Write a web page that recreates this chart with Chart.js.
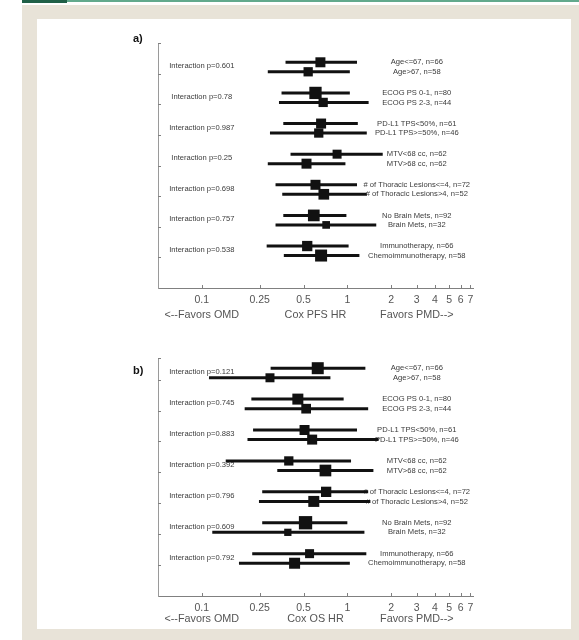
<!DOCTYPE html>
<html>
<head>
<meta charset="utf-8">
<script src="https://cdn.jsdelivr.net/npm/chart.js@4.4.1/dist/chart.umd.min.js"></script>
<style>
  html, body { margin: 0; padding: 0; background: #fff; }
  #page { position: relative; width: 579px; height: 640px; overflow: hidden; }
  .frame { position: absolute; left: 22px; top: 5px; width: 557px; height: 635px; background: #e8e3d8; }
  .panel { position: absolute; left: 37px; top: 19px; width: 534px; height: 610px; background: #fff; }
  .rule { position: absolute; left: 22px; top: 0; width: 557px; height: 2px; background: #62a98d; }
  .ruleDark { position: absolute; left: 22px; top: 0; width: 45px; height: 3px; background: #1f5f47; }
  canvas { position: absolute; left: 0; }
  #pfs { top: 0; }
  #os { top: 330px; }
</style>
</head>
<body>
<div id="page">
  <div class="frame"></div>
  <div class="panel"></div>
  <div class="rule"></div>
  <div class="ruleDark"></div>
  <canvas id="pfs" width="579" height="330"></canvas>
  <canvas id="os" width="579" height="310"></canvas>
</div>
<script>
// Subgroup labels, top group first
const upperLabels = ["Age<=67, n=66", "ECOG PS 0-1, n=80", "PD-L1 TPS<50%, n=61", "MTV<68 cc, n=62",
                     "# of Thoracic Lesions<=4, n=72", "No Brain Mets, n=92", "Immunotherapy, n=66"];
const lowerLabels = ["Age>67, n=58", "ECOG PS 2-3, n=44", "PD-L1 TPS>=50%, n=46", "MTV>68 cc, n=62",
                     "# of Thoracic Lesions>4, n=52", "Brain Mets, n=32", "Chemoimmunotherapy, n=58"];

// Shared log-axis ticks
const xTickValues = [0.1, 0.25, 0.5, 1, 2, 3, 4, 5, 6, 7];
const xTickLabels = ["0.1", "0.25", "0.5", "1", "2", "3", "4", "5", "6", "7"];

// a) progression-free survival
const pfsInteractionP = ["0.601", "0.78", "0.987", "0.25", "0.698", "0.757", "0.538"];
const pfsUpperHR   = [0.653, 0.604, 0.660, 0.850, 0.604, 0.588, 0.530];
const pfsUpperLow  = [0.376, 0.353, 0.363, 0.407, 0.321, 0.363, 0.279];
const pfsUpperHigh = [1.165, 1.040, 1.180, 1.750, 1.165, 0.985, 1.020];
const pfsUpperWeight = [1.00, 1.51, 1.00, 0.81, 1.00, 1.37, 1.06];
const pfsLowerHR   = [0.538, 0.682, 0.636, 0.524, 0.689, 0.715, 0.660];
const pfsLowerLow  = [0.284, 0.339, 0.294, 0.284, 0.357, 0.321, 0.366];
const pfsLowerHigh = [1.040, 1.400, 1.360, 0.970, 1.360, 1.580, 1.210];
const pfsLowerWeight = [0.86, 0.86, 0.86, 1.00, 1.14, 0.59, 1.44];

// b) overall survival
const osInteractionP = ["0.121", "0.745", "0.883", "0.392", "0.796", "0.609", "0.792"];
const osUpperHR   = [0.626, 0.457, 0.508, 0.396, 0.715, 0.516, 0.550];
const osUpperLow  = [0.297, 0.219, 0.225, 0.146, 0.260, 0.260, 0.222];
const osUpperHigh = [1.330, 0.943, 1.165, 1.060, 1.390, 1.000, 1.350];
const osUpperWeight = [1.44, 1.21, 1.00, 0.86, 1.06, 1.77, 0.81];
const osLowerHR   = [0.294, 0.521, 0.573, 0.707, 0.588, 0.390, 0.434];
const osLowerLow  = [0.112, 0.197, 0.206, 0.330, 0.247, 0.118, 0.180];
const osLowerHigh = [0.765, 1.390, 1.640, 1.510, 1.440, 1.310, 1.040];
const osLowerWeight = [0.81, 0.94, 1.00, 1.37, 1.21, 0.53, 1.21];

const FONT = "'Liberation Sans', Arial, sans-serif";
const INK = '#111';
const TEXT = '#3a3a3a';
const AXIS = '#808080';

// Row offsets within each group (group base sits at integer y values 7..1)
const UPPER_OFF = 0.37, LOWER_OFF = 0.06, NOTE_OFF = 0.24;

function groupBase(i) { return 7 - i; }

function buildDatasets(s) {
  const rows = [];
  for (let i = 0; i < 7; i++) {
    rows.push({ hr: s.upperHR[i], lo: s.upperLow[i], hi: s.upperHigh[i], w: s.upperWeight[i], y: groupBase(i) + UPPER_OFF });
    rows.push({ hr: s.lowerHR[i], lo: s.lowerLow[i], hi: s.lowerHigh[i], w: s.lowerWeight[i], y: groupBase(i) + LOWER_OFF });
  }
  const sets = [{
    label: 'HR',
    order: 0,
    data: rows.map(r => ({ x: r.hr, y: r.y })),
    pointStyle: 'rect',
    backgroundColor: INK,
    borderWidth: 0,
    // square side grows with the subgroup weight
    pointRadius: rows.map(r => (10 * Math.sqrt(r.w)) / (2 * Math.SQRT1_2)),
    showLine: false
  }];
  rows.forEach((r, k) => {
    sets.push({
      label: 'CI ' + k,
      order: 1,
      data: [{ x: r.lo, y: r.y }, { x: r.hi, y: r.y }],
      showLine: true,
      borderColor: INK,
      borderWidth: 3,
      pointRadius: 0,
      fill: false
    });
  });
  return sets;
}

const forestText = {
  id: 'forestText',
  beforeDatasetsDraw(chart, args, o) {
    const { ctx, scales: { x, y } } = chart;
    ctx.save();
    ctx.fillStyle = TEXT;
    ctx.textAlign = 'center';
    ctx.textBaseline = 'middle';
    ctx.font = `7.6px ${FONT}`;
    const xl = x.getPixelForValue(0.1);
    const xr = x.getPixelForValue(3);
    for (let i = 0; i < 7; i++) {
      const b = groupBase(i);
      ctx.fillText('Interaction p=' + o.p[i], xl, y.getPixelForValue(b + NOTE_OFF));
      ctx.fillText(upperLabels[i], xr, y.getPixelForValue(b + UPPER_OFF));
      ctx.fillText(lowerLabels[i], xr, y.getPixelForValue(b + LOWER_OFF));
    }
    ctx.restore();
  },
  afterDraw(chart, args, o) {
    const { ctx, scales: { x, y }, chartArea: a } = chart;
    ctx.save();
    // inward tick marks
    ctx.strokeStyle = AXIS;
    ctx.lineWidth = 1;
    x.ticks.forEach(t => {
      const px = Math.round(x.getPixelForValue(t.value)) + 0.5;
      ctx.beginPath(); ctx.moveTo(px, a.bottom); ctx.lineTo(px, a.bottom - 3); ctx.stroke();
    });
    y.ticks.forEach(t => {
      const py = Math.round(y.getPixelForValue(t.value)) + 0.5;
      ctx.beginPath(); ctx.moveTo(a.left, py); ctx.lineTo(a.left + 3, py); ctx.stroke();
    });
    // axis captions
    ctx.fillStyle = '#555';
    ctx.textAlign = 'center';
    ctx.textBaseline = 'middle';
    ctx.font = `10.8px ${FONT}`;
    const ty = a.bottom + o.titleGap;
    ctx.fillText('<--Favors OMD', x.getPixelForValue(0.1), ty);
    ctx.fillText(o.title, (a.left + a.right) / 2, ty);
    ctx.fillText('Favors PMD-->', x.getPixelForValue(3), ty);
    // panel letter
    ctx.fillStyle = '#111';
    ctx.font = `bold 11px ${FONT}`;
    ctx.textAlign = 'left';
    ctx.fillText(o.letter, o.letterX, o.letterY);
    ctx.restore();
  }
};

function makeForest(id, s) {
  return new Chart(document.getElementById(id), {
    type: 'scatter',
    data: { datasets: buildDatasets(s) },
    options: {
      responsive: false,
      animation: false,
      devicePixelRatio: 1,
      events: [],
      layout: { padding: s.padding },
      plugins: {
        legend: { display: false },
        tooltip: { enabled: false },
        forestText: { p: s.p, title: s.title, titleGap: s.titleGap, letter: s.letter, letterX: s.letterX, letterY: s.letterY }
      },
      scales: {
        x: {
          type: 'logarithmic',
          min: 0.05,
          max: 7.3,
          grid: { display: false, drawTicks: false },
          border: { display: true, color: AXIS, width: 1 },
          afterBuildTicks: sc => { sc.ticks = xTickValues.map(v => ({ value: v })); },
          afterFit: sc => { sc.height = 30; },
          ticks: {
            autoSkip: false,
            maxRotation: 0,
            padding: s.tickPad,
            color: '#555',
            font: { family: FONT, size: 10.5 },
            callback: (v, i) => xTickLabels[i]
          }
        },
        y: {
          type: 'linear',
          min: 0,
          max: s.yMax,
          grid: { display: false, drawTicks: false },
          border: { display: true, color: '#9a9a9a', width: 1 },
          afterBuildTicks: sc => { sc.ticks = [1, 2, 3, 4, 5, 6, 7, s.yMax].map(v => ({ value: v })); },
          afterFit: sc => { sc.width = 0; },
          ticks: { display: false }
        }
      }
    },
    plugins: [forestText]
  });
}

makeForest('pfs', {
  upperHR: pfsUpperHR, upperLow: pfsUpperLow, upperHigh: pfsUpperHigh, upperWeight: pfsUpperWeight,
  lowerHR: pfsLowerHR, lowerLow: pfsLowerLow, lowerHigh: pfsLowerHigh, lowerWeight: pfsLowerWeight,
  p: pfsInteractionP, title: 'Cox PFS HR', letter: 'a)', letterX: 133, letterY: 39,
  yMax: 8, padding: { left: 158, right: 106, top: 43, bottom: 12 }, tickPad: 6, titleGap: 27
});

makeForest('os', {
  upperHR: osUpperHR, upperLow: osUpperLow, upperHigh: osUpperHigh, upperWeight: osUpperWeight,
  lowerHR: osLowerHR, lowerLow: osLowerLow, lowerHigh: osLowerHigh, lowerWeight: osLowerWeight,
  p: osInteractionP, title: 'Cox OS HR', letter: 'b)', letterX: 133, letterY: 41,
  yMax: 7.7, padding: { left: 158, right: 106, top: 28, bottom: 14 }, tickPad: 6, titleGap: 23
});
</script>
</body>
</html>
